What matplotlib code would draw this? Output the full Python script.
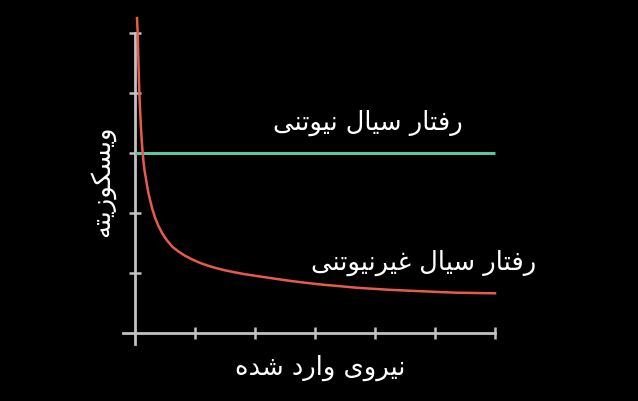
import matplotlib
matplotlib.use('Agg')
import matplotlib.pyplot as plt

# data (x = applied force, y = viscosity)
newtonian_x = [0.0, 6.0]
newtonian_y = [3.0, 3.0]

non_newtonian_x = [0.033, 0.039, 0.045, 0.052, 0.058, 0.065, 0.072, 0.08, 0.088,
                   0.096, 0.105, 0.116, 0.128, 0.145, 0.16, 0.178, 0.2, 0.222,
                   0.255, 0.288, 0.335, 0.388, 0.455, 0.528, 0.62, 0.722, 0.83,
                   0.945, 1.08, 1.222, 1.36, 1.5, 1.67, 1.833, 2.03, 2.3, 2.58,
                   2.86, 3.14, 3.42, 3.69, 3.97, 4.25, 4.53, 4.81, 5.08, 5.36,
                   5.68, 6.0]
non_newtonian_y = [5.25, 5.12, 5.0, 4.72, 4.48, 4.24, 4.0, 3.82, 3.65,
                   3.48, 3.32, 3.15, 3.0, 2.82, 2.7, 2.6, 2.46, 2.34,
                   2.2, 2.07, 1.92, 1.79, 1.66, 1.55, 1.44, 1.36, 1.29,
                   1.23, 1.17, 1.12, 1.08, 1.045, 1.01, 0.98, 0.95, 0.91, 0.87,
                   0.835, 0.805, 0.78, 0.755, 0.737, 0.72, 0.707, 0.695, 0.683, 0.672,
                   0.667, 0.662]

x_ticks = [1, 2, 3, 4, 5, 6]
y_ticks = [1, 2, 3, 4, 5]

label_newtonian = 'رفتار سیال نیوتنی'
label_non_newtonian = 'رفتار سیال غیرنیوتنی'
x_label = 'نیروی وارد شده'
y_label = 'ویسکوزیته'

# presentation forms: isolated, final, initial, medial (None = no such form)
FORMS = {
    'ا': ('\uFE8D', '\uFE8E', None, None),
    'ت': ('\uFE95', '\uFE96', '\uFE97', '\uFE98'),
    'د': ('\uFEA9', '\uFEAA', None, None),
    'ر': ('\uFEAD', '\uFEAE', None, None),
    'ز': ('\uFEAF', '\uFEB0', None, None),
    'س': ('\uFEB1', '\uFEB2', '\uFEB3', '\uFEB4'),
    'ش': ('\uFEB5', '\uFEB6', '\uFEB7', '\uFEB8'),
    'غ': ('\uFECD', '\uFECE', '\uFECF', '\uFED0'),
    'ف': ('\uFED1', '\uFED2', '\uFED3', '\uFED4'),
    'ل': ('\uFEDD', '\uFEDE', '\uFEDF', '\uFEE0'),
    'ن': ('\uFEE5', '\uFEE6', '\uFEE7', '\uFEE8'),
    'ه': ('\uFEE9', '\uFEEA', '\uFEEB', '\uFEEC'),
    'و': ('\uFEED', '\uFEEE', None, None),
    'ی': ('\uFBFC', '\uFBFD', '\uFBFE', '\uFBFF'),
    'ک': ('\uFB8E', '\uFB8F', '\uFB90', '\uFB91'),
}


def shape(text):
    """Very small Persian shaper: joins letters and reverses to visual order."""
    out = []
    for i, ch in enumerate(text):
        if ch not in FORMS:
            out.append(ch)
            continue
        prev = text[i - 1] if i > 0 else ''
        nxt = text[i + 1] if i + 1 < len(text) else ''
        joins_prev = prev in FORMS and FORMS[prev][2] is not None
        joins_next = nxt in FORMS and FORMS[ch][2] is not None
        iso, fin, ini, med = FORMS[ch]
        if joins_prev and joins_next:
            out.append(med)
        elif joins_prev:
            out.append(fin)
        elif joins_next:
            out.append(ini)
        else:
            out.append(iso)
    return ''.join(reversed(out))


plt.rcParams['font.family'] = ['DejaVu Sans']

fig = plt.figure(figsize=(6.38, 4.02), dpi=100, facecolor='black')
ax = fig.add_axes([0, 0, 1, 1], facecolor='black')
ax.set_xlim(-2.25, 8.383)
ax.set_ylim(-1.133, 5.567)

grey = '#c2c2c2'
ax.plot(newtonian_x, newtonian_y, color='#5fc5a3', lw=2.2, solid_capstyle='butt', zorder=3)
ax.plot(non_newtonian_x, non_newtonian_y, color='#e65b4d', lw=1.8, zorder=4)

for side in ['top', 'right']:
    ax.spines[side].set_visible(False)
ax.spines['left'].set_position(('data', 0))
ax.spines['bottom'].set_position(('data', 0))
ax.spines['left'].set_bounds(-0.18, 5.0)
ax.spines['bottom'].set_bounds(-0.2, 6.0)
for side in ['left', 'bottom']:
    ax.spines[side].set_color(grey)
    ax.spines[side].set_linewidth(2.0)
    ax.spines[side].set_zorder(2)

ax.set_xticks(x_ticks)
ax.set_yticks(y_ticks)
ax.set_xticklabels([])
ax.set_yticklabels([])
ax.tick_params(direction='inout', length=9, width=1.8, color=grey)

text_style = dict(color='white', fontsize=18.5, ha='center', va='center')
ax.text(3.88, 3.52, shape(label_newtonian), **text_style)
ax.text(4.81, 1.18, shape(label_non_newtonian), **text_style)
ax.text(3.08, -0.57, shape(x_label), **text_style)
ax.text(-0.55, 2.55, shape(y_label), rotation=90, **text_style)

fig.savefig('out.png', dpi=100, facecolor='black')
